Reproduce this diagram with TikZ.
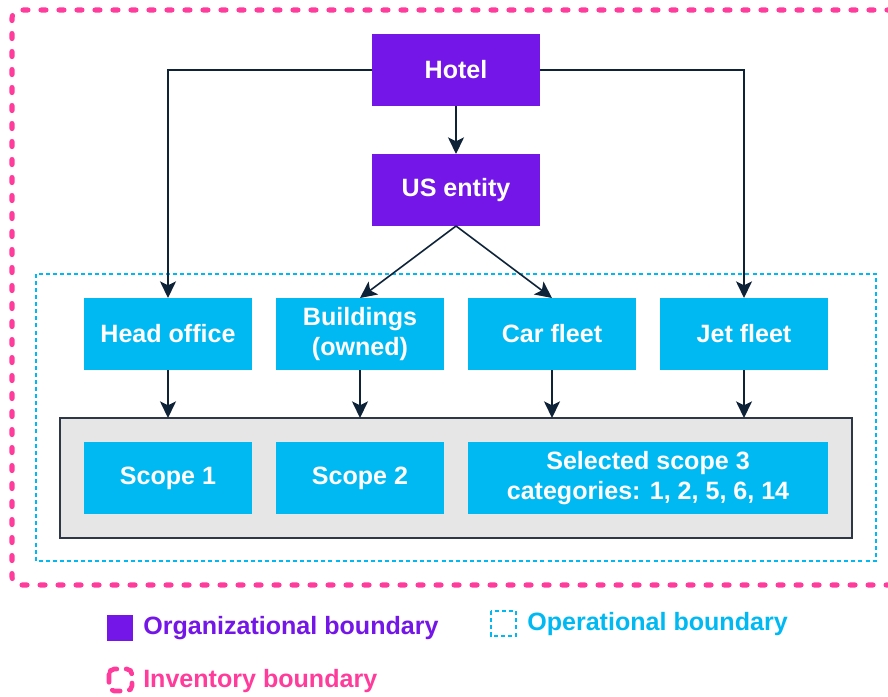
\documentclass[tikz,border=0pt]{standalone}
\usepackage{fontspec}
\setmainfont{Liberation Sans}
\usepackage{tikz}
\usetikzlibrary{arrows.meta,positioning}

\definecolor{orgpurple}{RGB}{116,22,232}
\definecolor{opcyan}{RGB}{0,185,242}
\definecolor{invpink}{RGB}{255,60,155}
\definecolor{arrownavy}{RGB}{14,34,56}
\definecolor{scopegray}{RGB}{230,230,230}
\definecolor{scopeedge}{RGB}{45,55,70}

\tikzset{
    boxtext/.style={font=\fontsize{18.8}{23}\selectfont\bfseries, align=center},
    orgbox/.style={boxtext, fill=orgpurple, text=white, minimum width=126pt, minimum height=54pt, inner sep=0pt, outer sep=0pt},
    opbox/.style={boxtext, fill=opcyan, text=white, minimum width=126pt, minimum height=54pt, inner sep=0pt, outer sep=0pt},
    scopebg/.style={fill=scopegray, draw=scopeedge, line width=1pt, minimum width=594pt, minimum height=90pt, inner sep=0pt, outer sep=0pt},
    link/.style={draw=arrownavy, line width=1.2pt, -{Stealth[length=12.5pt, width=12pt, inset=3pt]}},
    invline/.style={draw=invpink, line width=3.8pt, line cap=round, dash pattern=on 3.8pt off 9.7pt},
    opline/.style={draw=opcyan, line width=1.5pt, dash pattern=on 3pt off 2.3pt},
    legendtext/.style={boxtext, anchor=west, inner sep=0pt}
}

\begin{document}
\begin{tikzpicture}[x=0.75pt, y=-0.75pt]
    \useasboundingbox (0,0) rectangle (888,696);

    % Inventory boundary
    \draw[invline, rounded corners=6pt] (892,10) -- (12,10) -- (12,585) -- (892,585);

    % Operational boundary
    \draw[opline] (36,274) rectangle (876,561);

    % Hotel and US entity
    \node[orgbox] (hotel) at (456,70) {Hotel};
    \node[orgbox, below=36pt of hotel] (usentity) {US entity};

    % Operations
    \node[opbox] (head) at (168,334) {Head office};
    \node[opbox, right=18pt of head] (build) {Buildings\\(owned)};
    \node[opbox, right=18pt of build] (car) {Car fleet};
    \node[opbox, right=18pt of car] (jet) {Jet fleet};

    % Scopes
    \node[scopebg] (scopes) at (456,478) {};
    \node[opbox] (scopea) at (168,478) {Scope 1};
    \node[opbox, right=18pt of scopea] (scopeb) {Scope 2};
    \node[opbox, right=18pt of scopeb, minimum width=270pt] (scopec) {Selected scope 3\\categories: 1, 2, 5, 6, 14};

    \draw[link] (hotel.west) -| (head.north);
    \draw[link] (hotel.east) -| (jet.north);
    \draw[link] (hotel.south) -- (usentity.north);
    \draw[link] (usentity.south) -- (build.north);
    \draw[link] (usentity.south) -- (car.north);
    \draw[link] (head.south) -- (head.south |- scopes.north);
    \draw[link] (build.south) -- (build.south |- scopes.north);
    \draw[link] (car.south) -- (car.south |- scopes.north);
    \draw[link] (jet.south) -- (jet.south |- scopes.north);

    % Legend
    \fill[orgpurple] (107,615) rectangle (133,641);
    \node[legendtext, text=orgpurple] (orglabel) at (143,628) {Organizational boundary};
    \draw[opline] (491,611) rectangle (516,636);
    \node[legendtext, text=opcyan] (oplabel) at (527,624) {Operational boundary};
    \draw[invline, line width=3.5pt, dash pattern=on 6pt off 7pt, rounded corners=4pt] (109,669) rectangle (132,691);
    \node[legendtext, text=invpink] (invlabel) at (143,681) {Inventory boundary};
\end{tikzpicture}
\end{document}
